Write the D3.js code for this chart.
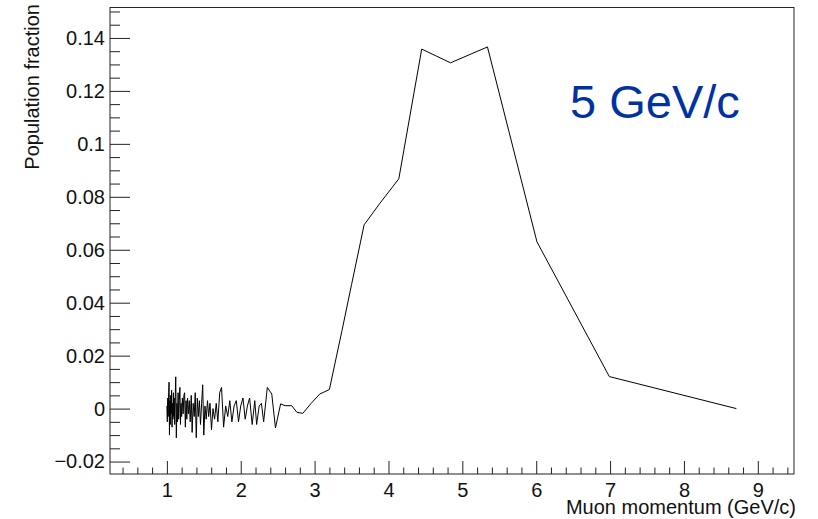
<!DOCTYPE html>
<html>
<head>
<meta charset="utf-8">
<script src="https://cdn.jsdelivr.net/npm/d3@7"></script>
<style>
  body { margin: 0; background: #fff; }
  text { font-family: "Liberation Sans", Arial, sans-serif; }
</style>
</head>
<body>
<div id="chart"></div>
<script>
// muon momentum (GeV/c) of each point
const momentum = [
  1.000, 1.006, 1.012, 1.018, 1.024, 1.030, 1.035, 1.040, 1.046, 1.052,
  1.058, 1.064, 1.070, 1.076, 1.082, 1.088, 1.094, 1.100, 1.106, 1.112,
  1.120, 1.128, 1.136, 1.144, 1.152, 1.160, 1.168, 1.176, 1.184, 1.192,
  1.200, 1.210, 1.220, 1.230, 1.240, 1.250, 1.260, 1.270, 1.280, 1.292,
  1.304, 1.316, 1.330, 1.342, 1.356, 1.370, 1.384, 1.398, 1.412, 1.426,
  1.440, 1.455, 1.470, 1.485, 1.500, 1.516, 1.532, 1.550, 1.566, 1.584,
  1.604, 1.624, 1.646, 1.668, 1.690, 1.715, 1.740, 1.768, 1.796, 1.824,
  1.852, 1.880, 1.910, 1.940, 1.970, 2.000, 2.030, 2.060, 2.090, 2.120,
  2.155, 2.190, 2.215, 2.250, 2.280, 2.310, 2.360, 2.420, 2.470, 2.540,
  2.600, 2.690, 2.760, 2.840, 2.950, 3.070, 3.200, 3.370, 3.500, 3.670,
  3.880, 4.140, 4.450, 4.840, 5.340, 6.010, 6.990, 8.710
];

// population fraction at each point
const fraction = [
  0.001, -0.005, 0.004, -0.003, 0.006, 0.010, -0.010, 0.003, -0.006, 0.005,
  -0.002, 0.007, -0.007, 0.002, -0.004, 0.006, -0.003, 0.004, -0.006, 0.003,
  0.012, -0.011, 0.002, -0.005, 0.006, -0.004, 0.003, 0.008, -0.006, 0.002,
  -0.003, 0.004, -0.002, 0.005, 0.006, -0.007, 0.003, -0.004, 0.004, -0.002,
  0.003, -0.005, 0.005, -0.009, 0.002, -0.003, 0.006, -0.011, 0.004, -0.003,
  0.003, -0.006, 0.002, 0.009, -0.010, 0.001, -0.004, 0.003, -0.003, 0.002,
  -0.008, 0.000, -0.004, 0.002, -0.005, 0.006, 0.008, -0.007, 0.001, -0.003,
  0.003, -0.005, 0.001, 0.003, -0.005, 0.001, 0.004, -0.004, 0.001, 0.004,
  -0.006, 0.003, -0.006, 0.001, 0.002, -0.005, 0.008, 0.0055, -0.0073, 0.0018,
  0.0011, 0.0011, -0.0014, -0.0018, 0.0019, 0.0055, 0.0072, 0.0294, 0.0468, 0.0694,
  0.0774, 0.0868, 0.1358, 0.1306, 0.1366, 0.0630, 0.0121, 0.0000
];

const xTicks = [1, 2, 3, 4, 5, 6, 7, 8, 9];
const xTickLabels = ["1", "2", "3", "4", "5", "6", "7", "8", "9"];
const yTicks = [-0.02, 0, 0.02, 0.04, 0.06, 0.08, 0.1, 0.12, 0.14];
const yTickLabels = ["\u22120.02", "0", "0.02", "0.04", "0.06", "0.08", "0.1", "0.12", "0.14"];

const xTitle = "Muon momentum (GeV/c)";
const yTitle = "Population fraction";
const annotation = "5 GeV/c";

const width = 818, height = 519;
const frame = { left: 110, right: 794, top: 7.5, bottom: 474 };

const svg = d3.select("#chart")
  .append("svg")
  .attr("width", width)
  .attr("height", height);

const x = d3.scaleLinear()
  .domain([0.23, 9.49])
  .range([frame.left, frame.right]);

const y = d3.scaleLinear()
  .domain([-0.0247, 0.1515])
  .range([frame.bottom, frame.top]);

// minor ticks
const xMinor = d3.range(0.4, 9.45, 0.2).filter(v => Math.abs(v - Math.round(v)) > 1e-6);
const yMinor = d3.range(-0.02, 0.151, 0.005).filter(v => Math.abs(v / 0.02 - Math.round(v / 0.02)) > 1e-6);

svg.append("g")
  .attr("transform", `translate(0,${frame.bottom})`)
  .call(d3.axisBottom(x).tickValues(xMinor).tickSize(-6.5).tickFormat(""))
  .call(g => g.select(".domain").remove());

svg.append("g")
  .attr("transform", `translate(0,${frame.bottom})`)
  .call(d3.axisBottom(x).tickValues(xTicks).tickSize(-13).tickPadding(9)
    .tickFormat((d, i) => xTickLabels[i]))
  .call(g => g.select(".domain").remove())
  .selectAll("text")
  .attr("font-size", 20)
  .attr("fill", "#111");

svg.append("g")
  .attr("transform", `translate(${frame.left},0)`)
  .call(d3.axisLeft(y).tickValues(yMinor).tickSize(-10).tickFormat(""))
  .call(g => g.select(".domain").remove());

svg.append("g")
  .attr("transform", `translate(${frame.left},0)`)
  .call(d3.axisLeft(y).tickValues(yTicks).tickSize(-20).tickPadding(5)
    .tickFormat((d, i) => yTickLabels[i]))
  .call(g => g.select(".domain").remove())
  .selectAll("text")
  .attr("font-size", 20)
  .attr("fill", "#111");

svg.selectAll(".tick line").attr("stroke", "#222");

// frame
svg.append("rect")
  .attr("x", frame.left)
  .attr("y", frame.top)
  .attr("width", frame.right - frame.left)
  .attr("height", frame.bottom - frame.top)
  .attr("fill", "none")
  .attr("stroke", "#222")
  .attr("stroke-width", 1);

const points = momentum.map((p, i) => [p, fraction[i]]);

svg.append("path")
  .datum(points)
  .attr("fill", "none")
  .attr("stroke", "#000")
  .attr("stroke-width", 1)
  .attr("d", d3.line().x(d => x(d[0])).y(d => y(d[1])));

svg.append("text")
  .attr("x", 796)
  .attr("y", 514)
  .attr("text-anchor", "end")
  .attr("font-size", 20)
  .attr("fill", "#111")
  .text(xTitle);

svg.append("text")
  .attr("transform", "translate(39,4) rotate(-90)")
  .attr("text-anchor", "end")
  .attr("font-size", 20)
  .attr("fill", "#111")
  .text(yTitle);

svg.append("text")
  .attr("x", 570)
  .attr("y", 118)
  .attr("font-size", 47)
  .attr("fill", "#0033a1")
  .text(annotation);
</script>
</body>
</html>
